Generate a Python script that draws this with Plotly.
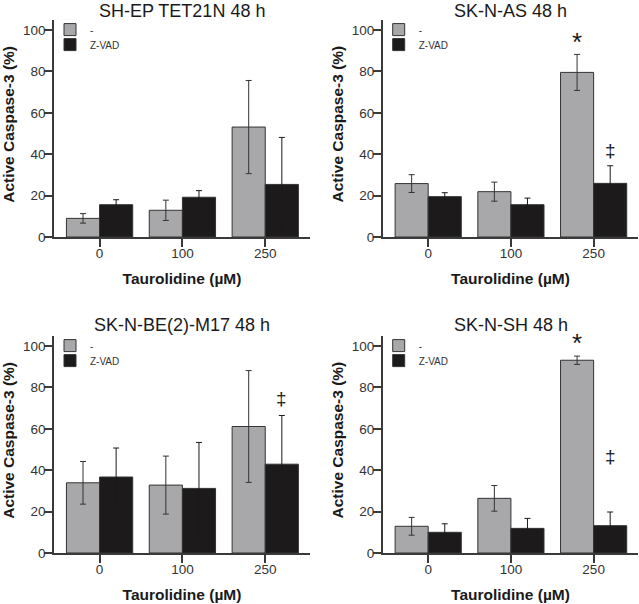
import plotly.graph_objects as go

W, H = 639, 604

doses = ["0", "100", "250"]
panel_titles = ["SH-EP TET21N 48 h", "SK-N-AS 48 h", "SK-N-BE(2)-M17 48 h", "SK-N-SH 48 h"]
series_names = ["-", "Z-VAD"]
x_title = "<b>Taurolidine (µM)</b>"
y_title = "<b>Active Caspase-3 (%)</b>"

# SH-EP TET21N
tet21n_ctrl = [9.0, 12.9, 53.1]
tet21n_ctrl_err = [2.3, 4.9, 22.5]
tet21n_zvad = [15.6, 19.2, 25.4]
tet21n_zvad_err = [2.4, 3.2, 22.7]
# SK-N-AS
as_ctrl = [25.8, 21.9, 79.5]
as_ctrl_err = [4.3, 4.6, 8.7]
as_zvad = [19.5, 15.6, 25.9]
as_zvad_err = [1.9, 3.2, 8.5]
# SK-N-BE(2)-M17
be_ctrl = [33.9, 32.8, 61.1]
be_ctrl_err = [10.3, 14.0, 27.0]
be_zvad = [36.7, 31.2, 42.9]
be_zvad_err = [14.0, 22.2, 23.5]
# SK-N-SH
sh_ctrl = [12.9, 26.4, 93.1]
sh_ctrl_err = [4.3, 6.2, 2.0]
sh_zvad = [10.0, 11.9, 13.2]
sh_zvad_err = [4.1, 4.8, 6.6]

panels_ctrl = [tet21n_ctrl, as_ctrl, be_ctrl, sh_ctrl]
panels_ctrl_err = [tet21n_ctrl_err, as_ctrl_err, be_ctrl_err, sh_ctrl_err]
panels_zvad = [tet21n_zvad, as_zvad, be_zvad, sh_zvad]
panels_zvad_err = [tet21n_zvad_err, as_zvad_err, be_zvad_err, sh_zvad_err]

# significance marks: panel, dose, series index, symbol, y value
sig_panel = [1, 1, 2, 3, 3]
sig_dose = ["250", "250", "250", "250", "250"]
sig_series = [0, 1, 1, 0, 1]
sig_symbol = ["*", "‡", "‡", "*", "‡"]
sig_y = [94.0, 42.0, 74.8, 101.6, 46.6]

GRAY = "#a8a8aa"
BLACK = "#1c1a1b"
EDGE = "#333333"
AXIS = "#3a3a3a"
TXT = "#333333"
FONT = "Liberation Sans, Arial, sans-serif"

# layout in pixels
x_px = [(54, 310), (382.7, 638.3), (54, 310), (382.7, 638.3)]
y_px = [(237, 19.6), (237, 19.6), (553, 335.6), (553, 335.6)]
XR = [-0.55, 2.54]
YR = [0, 105]

def px_x(p):
    return p / W

def px_y(p):
    return 1 - p / H

fig = go.Figure()
layout = dict(
    template="none",
    width=W, height=H,
    margin=dict(l=0, r=0, t=0, b=0, autoexpand=False),
    paper_bgcolor="white", plot_bgcolor="white",
    barmode="group", bargap=0.2, bargroupgap=0,
    font=dict(family=FONT, color=TXT),
    showlegend=True,
    annotations=[],
)

legend_n = 0
for i in range(4):
    sfx = "" if i == 0 else str(i + 1)
    x0, x1 = x_px[i]
    yb, yt = y_px[i]
    series = [
        (series_names[0], panels_ctrl[i], panels_ctrl_err[i], GRAY, EDGE),
        (series_names[1], panels_zvad[i], panels_zvad_err[i], BLACK, BLACK),
    ]
    for k, (nm, vals, errs, col, ecol) in enumerate(series):
        legend_n += 1
        lg = "legend" if legend_n == 1 else "legend" + str(legend_n)
        fig.add_trace(go.Bar(
            x=doses, y=vals, name=nm, showlegend=True,
            marker=dict(color=col, line=dict(color=EDGE, width=1)),
            error_y=dict(type="data", array=errs, color=ecol, thickness=1, width=3),
            xaxis="x" + sfx, yaxis="y" + sfx, legend=lg,
        ))
        layout[lg] = dict(
            x=px_x(x0 - 4), y=px_y(yt - 4.5 + 15 * k), xanchor="left", yanchor="top",
            font=dict(size=10, color=TXT), bgcolor="rgba(0,0,0,0)",
            itemclick=False, itemdoubleclick=False, visible=True,
        )
    layout["xaxis" + sfx] = dict(
        domain=[px_x(x0), px_x(x1)], anchor="y" + sfx, type="category", range=XR,
        showline=True, linecolor=AXIS, linewidth=1.5, ticks="outside", ticklen=8,
        tickwidth=1.5, tickcolor=AXIS, tickfont=dict(size=13.5, color=TXT),
        ticklabelstandoff=-5,
        showgrid=False, zeroline=False, fixedrange=True, automargin=False,
        title=dict(text=x_title, font=dict(size=15.5, color="#1a1a1a"), standoff=13),
    )
    layout["yaxis" + sfx] = dict(
        domain=[px_y(yb), px_y(yt)], anchor="x" + sfx, range=YR,
        tickvals=[0, 20, 40, 60, 80, 100],
        showline=True, linecolor=AXIS, linewidth=1.5, ticks="outside", ticklen=8,
        tickwidth=1.5, tickcolor=AXIS, tickfont=dict(size=13.5, color=TXT),
        ticklabelstandoff=-4,
        showgrid=False, zeroline=False, fixedrange=True, automargin=False,
    )
    # y-axis title, placed further from the tick labels than plotly's minimum standoff allows
    layout["annotations"].append(dict(
        text=y_title, xref="paper", yref="paper", textangle=-90,
        x=px_x(x0 - 45.5), y=px_y((yb + yt) / 2 - 4), xanchor="center", yanchor="middle",
        showarrow=False, font=dict(size=15.5, color="#1a1a1a"),
    ))
    layout["annotations"].append(dict(
        text=panel_titles[i], xref="paper", yref="paper",
        x=px_x((x0 + x1) / 2), y=px_y(yt - 9 if i < 2 else yt - 11), xanchor="center", yanchor="middle",
        showarrow=False, font=dict(size=18, color="#1a1a1a"),
    ))

unit_px = (x_px[0][1] - x_px[0][0]) / (XR[1] - XR[0])
bar_off = 0.2 * unit_px
for p, d, s, sym, yv in zip(sig_panel, sig_dose, sig_series, sig_symbol, sig_y):
    sfx = "" if p == 0 else str(p + 1)
    layout["annotations"].append(dict(
        text=sym, xref="x" + sfx, yref="y" + sfx, x=doses.index(d), y=yv,
        xshift=-bar_off if s == 0 else bar_off,
        showarrow=False, xanchor="center", yanchor="middle",
        font=dict(size=26 if sym == "*" else 19, color="#1a1a1a"),
    ))

fig.update_layout(**layout)
fig.write_html("out.html", config={"displayModeBar": False},
               post_script="document.body.style.margin='0';")
